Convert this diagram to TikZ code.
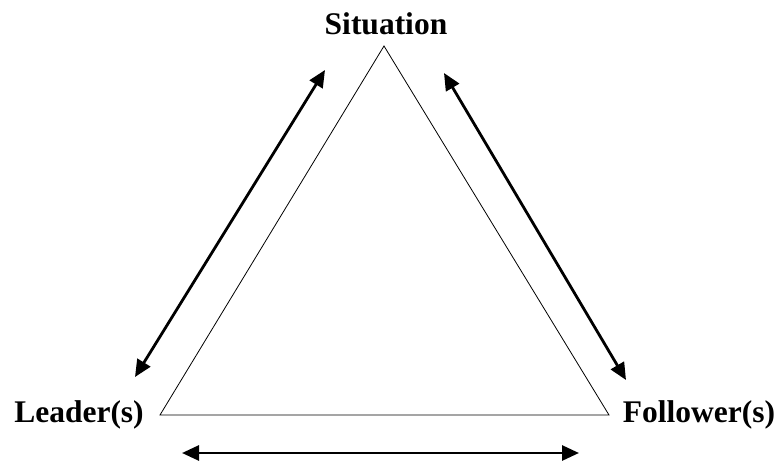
\documentclass[tikz,border=0pt]{standalone}
\usepackage{fontspec}
\setmainfont{Liberation Serif}
\usetikzlibrary{arrows.meta,positioning}

\begin{document}
\begin{tikzpicture}[x=1pt, y=-1pt, >={Triangle[length=17pt,width=15pt]},
  label/.style={font=\fontsize{31.5}{38}\selectfont\bfseries, inner sep=0pt},
  link/.style={<->, line width=2.8pt}]
  \useasboundingbox (0,0) rectangle (777,463);
  % the three corners
  \coordinate (top) at (384,46);
  \coordinate (lft) at (160,415);
  \coordinate (rgt) at (609,415);
  \draw[line width=0.8pt, line join=miter] (top) -- (lft) -- (rgt) -- cycle;
  \node[label] (sit) at (386,24) {Situation};
  \node[label] (lead) at (79,415) {Leader(s)};
  \node[label] (foll) at (699,415) {Follower(s)};
  % arrow ends
  \coordinate (a1) at (325,70);
  \coordinate (a2) at (135,377);
  \coordinate (b1) at (444,73);
  \coordinate (b2) at (626,380);
  \coordinate (c1) at (182,453);
  \coordinate (c2) at (579,453);
  \draw[link] (a1) -- (a2);
  \draw[link] (b1) -- (b2);
  \draw[link] (c1) -- (c2);
\end{tikzpicture}
\end{document}
